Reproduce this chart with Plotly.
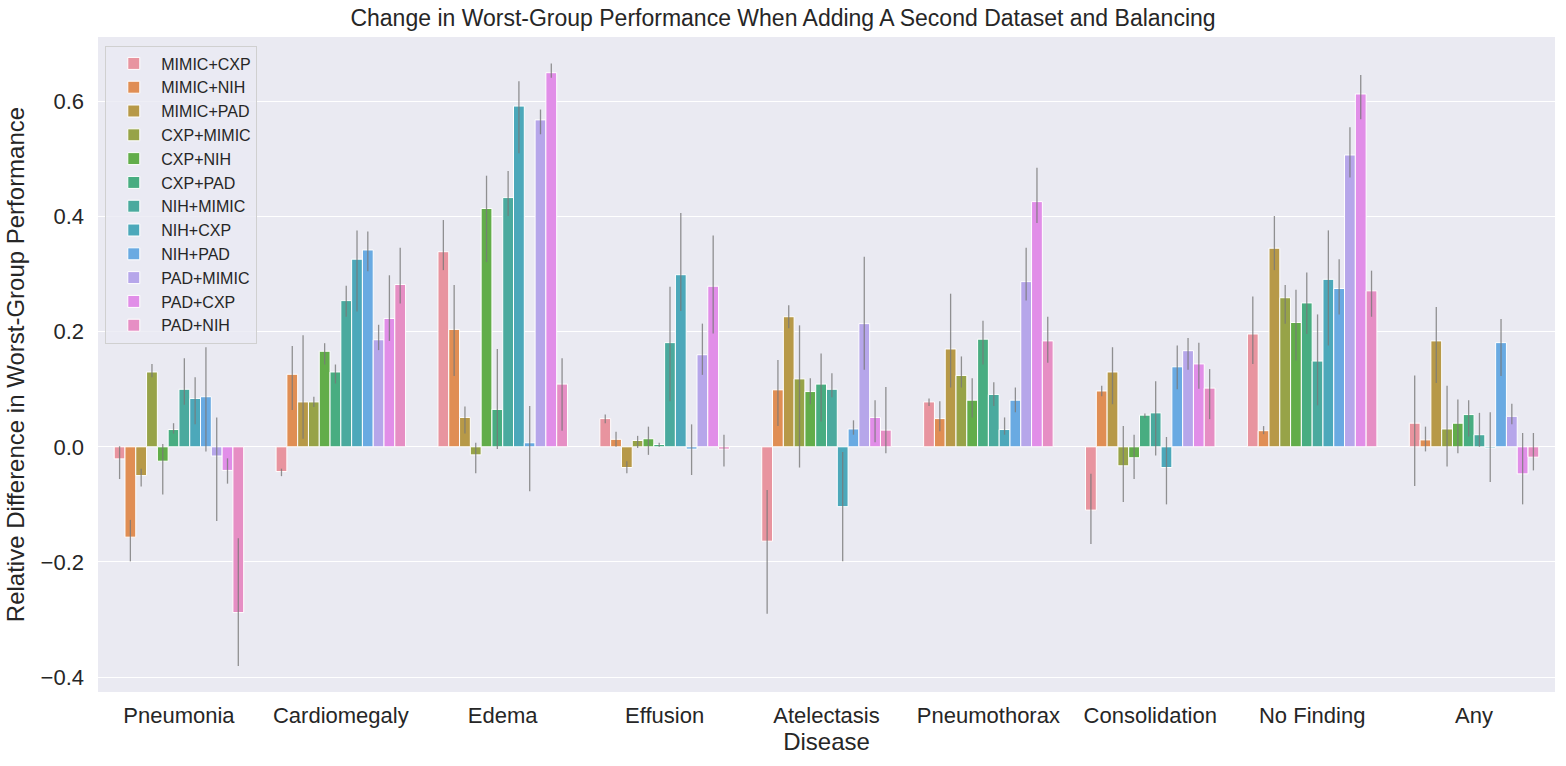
import plotly.graph_objects as go

# categories on the x axis
diseases = ["Pneumonia", "Cardiomegaly", "Edema", "Effusion", "Atelectasis",
            "Pneumothorax", "Consolidation", "No Finding", "Any"]

# hue groups (dataset pairs)
pairs = ["MIMIC+CXP", "MIMIC+NIH", "MIMIC+PAD", "CXP+MIMIC", "CXP+NIH", "CXP+PAD",
         "NIH+MIMIC", "NIH+CXP", "NIH+PAD", "PAD+MIMIC", "PAD+CXP", "PAD+NIH"]

# mean relative difference, one row per pair, one column per disease
means = [
    [-0.021, -0.043, 0.339, 0.049, -0.164, 0.078, -0.110, 0.196, 0.041],
    [-0.157, 0.126, 0.204, 0.013, 0.099, 0.049, 0.097, 0.028, 0.012],
    [-0.050, 0.078, 0.051, -0.036, 0.226, 0.170, 0.130, 0.345, 0.184],
    [0.130, 0.078, -0.014, 0.011, 0.118, 0.124, -0.033, 0.259, 0.031],
    [-0.025, 0.166, 0.414, 0.014, 0.096, 0.081, -0.019, 0.216, 0.041],
    [0.030, 0.130, 0.065, 0.004, 0.109, 0.187, 0.055, 0.250, 0.056],
    [0.100, 0.254, 0.433, 0.181, 0.100, 0.091, 0.059, 0.149, 0.021],
    [0.084, 0.326, 0.592, 0.299, -0.104, 0.030, -0.036, 0.291, -0.002],
    [0.087, 0.342, 0.007, -0.004, 0.031, 0.081, 0.139, 0.275, 0.181],
    [-0.016, 0.186, 0.568, 0.160, 0.214, 0.287, 0.167, 0.507, 0.053],
    [-0.041, 0.223, 0.650, 0.279, 0.051, 0.426, 0.144, 0.613, -0.047],
    [-0.288, 0.282, 0.109, -0.004, 0.029, 0.184, 0.102, 0.271, -0.018],
]

# lower end of the error bar
ci_low = [
    [-0.056, -0.051, 0.307, 0.041, -0.290, 0.071, -0.169, 0.144, -0.068],
    [-0.199, 0.064, 0.123, 0.000, 0.036, 0.027, 0.088, 0.022, -0.008],
    [-0.069, 0.014, 0.023, -0.046, 0.206, 0.103, 0.074, 0.307, 0.111],
    [0.121, 0.069, -0.046, -0.002, -0.036, 0.103, -0.096, 0.214, -0.034],
    [-0.083, 0.143, 0.321, -0.014, 0.074, 0.051, -0.056, 0.150, -0.011],
    [0.023, 0.110, -0.004, 0.000, 0.044, 0.143, 0.050, 0.196, 0.018],
    [0.073, 0.226, 0.401, 0.079, 0.086, 0.071, -0.015, 0.072, 0.000],
    [0.039, 0.235, 0.510, 0.236, -0.199, 0.021, -0.100, 0.176, -0.061],
    [-0.008, 0.305, -0.077, -0.049, 0.021, 0.060, 0.100, 0.230, 0.123],
    [-0.129, 0.168, 0.543, 0.125, 0.134, 0.254, 0.134, 0.468, 0.039],
    [-0.064, 0.184, 0.641, 0.197, 0.008, 0.389, 0.101, 0.569, -0.100],
    [-0.381, 0.249, 0.028, -0.034, -0.011, 0.146, 0.048, 0.226, -0.041],
]

# upper end of the error bar
ci_high = [
    [0.001, -0.038, 0.394, 0.056, -0.075, 0.084, -0.047, 0.261, 0.124],
    [-0.127, 0.175, 0.281, 0.026, 0.151, 0.079, 0.106, 0.036, 0.035],
    [-0.038, 0.194, 0.070, -0.025, 0.246, 0.266, 0.173, 0.401, 0.243],
    [0.144, 0.087, 0.007, 0.019, 0.211, 0.157, 0.036, 0.281, 0.106],
    [0.005, 0.180, 0.471, 0.035, 0.119, 0.119, 0.021, 0.273, 0.082],
    [0.041, 0.143, 0.170, 0.007, 0.162, 0.219, 0.058, 0.303, 0.081],
    [0.154, 0.280, 0.479, 0.278, 0.128, 0.112, 0.114, 0.230, 0.059],
    [0.121, 0.376, 0.635, 0.406, -0.009, 0.051, 0.017, 0.376, 0.060],
    [0.173, 0.374, 0.071, 0.039, 0.046, 0.103, 0.176, 0.326, 0.222],
    [0.051, 0.212, 0.586, 0.214, 0.330, 0.346, 0.189, 0.555, 0.075],
    [-0.020, 0.298, 0.666, 0.367, 0.081, 0.485, 0.181, 0.646, 0.024],
    [-0.159, 0.346, 0.154, 0.021, 0.104, 0.226, 0.135, 0.306, 0.024],
]

# seaborn-ish husl colours (desaturated)
colors = ["#e8949f", "#e08e54", "#b79948", "#97a348", "#62ad4a", "#48ad81",
          "#4aaa9e", "#4ca8ba", "#69aae2", "#b6a6ea", "#e18ee8", "#e68ec4"]

font = "Liberation Sans, Arial, sans-serif"

fig = go.Figure()
for i, name in enumerate(pairs):
    m = means[i]
    fig.add_trace(go.Bar(
        x=diseases, y=m, name=name,
        marker=dict(color=colors[i], line=dict(color="white", width=1)),
        error_y=dict(type="data", symmetric=False,
                     array=[h - v for h, v in zip(ci_high[i], m)],
                     arrayminus=[v - l for v, l in zip(m, ci_low[i])],
                     color="rgba(120,120,120,0.8)", thickness=1.3, width=0),
    ))

fig.update_layout(
    width=1566, height=766,
    barmode="group", bargap=0.2, bargroupgap=0,
    paper_bgcolor="white", plot_bgcolor="#eaeaf2",
    margin=dict(l=98, r=11, t=37, b=74),
    font=dict(family=font, color="#262626"),
    title=dict(text="Change in Worst-Group Performance When Adding A Second Dataset and Balancing",
               x=0.5, xanchor="center", y=0.977, yanchor="middle",
               font=dict(size=23, color="#262626")),
    legend=dict(x=0.005, y=0.987, xanchor="left", yanchor="top",
                bgcolor="rgba(234,234,242,0.8)", bordercolor="#d0d0d0", borderwidth=1,
                font=dict(size=16), tracegroupgap=0, itemwidth=45),
    showlegend=True,
)
fig.update_xaxes(
    title=dict(text="Disease", font=dict(size=24), standoff=4),
    tickfont=dict(size=22), showgrid=False, zeroline=False, automargin=False,
    range=[-0.5, len(diseases) - 0.5], ticks="", ticklabelstandoff=8,
)
fig.update_yaxes(
    title=dict(text="Relative Difference in Worst-Group Performance", font=dict(size=24), standoff=9),
    tickfont=dict(size=22), range=[-0.426, 0.712], automargin=False,
    tickvals=[-0.4, -0.2, 0.0, 0.2, 0.4, 0.6], ticktext=["\u22120.4", "\u22120.2", "0.0", "0.2", "0.4", "0.6"],
    showgrid=True, gridcolor="white", gridwidth=1.2, zeroline=False, ticklabelstandoff=13,
)

# drop the default page margin so the figure sits at the window corner
fig.write_html("out.html", config={"displayModeBar": False},
               post_script="document.body.style.margin='0';")
